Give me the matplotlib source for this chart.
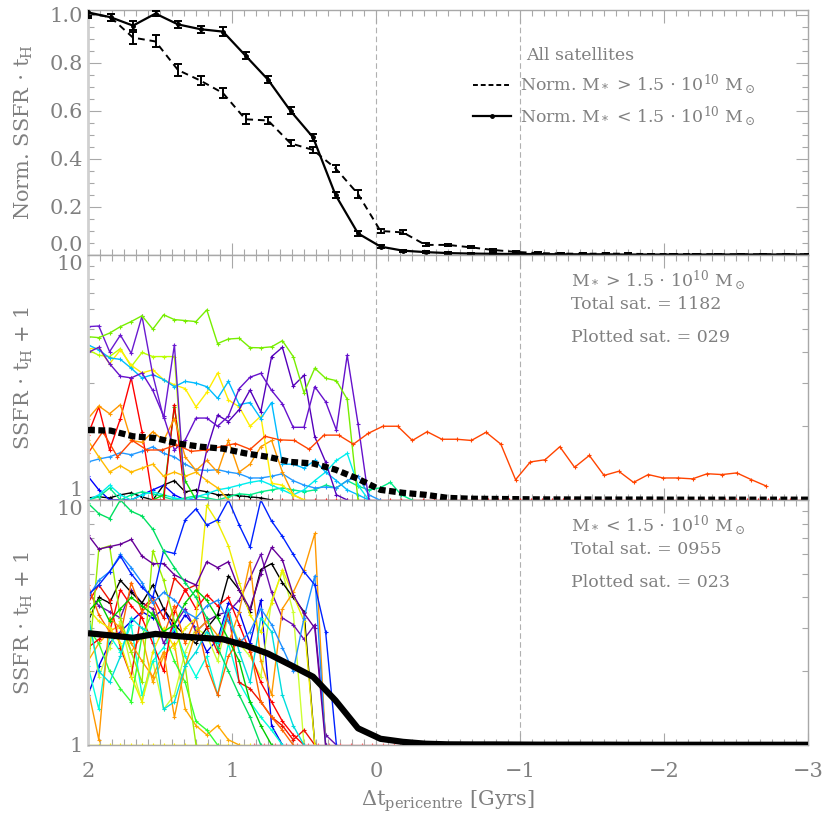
import numpy as np
import matplotlib
matplotlib.use('Agg')
import matplotlib.pyplot as plt
from matplotlib import ticker
from matplotlib.lines import Line2D

plt.rcParams['font.family'] = ['DejaVu Serif']
plt.rcParams['mathtext.fontset'] = 'dejavuserif'

GREY = '#808080'
FRAME = '#a8a8a8'

# ---------------- top panel: normalised mean SSFR ----------------
t_mean = np.linspace(2.0, -3.0, 33)

norm_high = [1.007, 0.99, 0.905, 0.889, 0.77, 0.726, 0.674, 0.565, 0.56, 0.465, 0.4375,
             0.361, 0.254, 0.10, 0.094, 0.042, 0.042, 0.032, 0.021, 0.013, 0.008, 0.006,
             0.005, 0.006, 0.005, 0.004, 0.004, 0.004, 0.003, 0.003, 0.003, 0.003, 0.003]
err_high = [0.02, 0.015, 0.025, 0.025, 0.025, 0.02, 0.02, 0.02, 0.015, 0.012, 0.012,
            0.015, 0.015, 0.008, 0.008, 0.006, 0.005, 0.004, 0.004, 0.003, 0.003, 0.002,
            0.002, 0.002, 0.002, 0.002, 0.002, 0.002, 0.002, 0.002, 0.002, 0.002, 0.002]
norm_low = [1.01, 0.99, 0.955, 1.005, 0.96, 0.94, 0.93, 0.83, 0.73, 0.60, 0.49, 0.25,
            0.09, 0.035, 0.018, 0.012, 0.008, 0.006, 0.005, 0.004, 0.004, 0.003, 0.003,
            0.003, 0.002, 0.002, 0.002, 0.002, 0.002, 0.002, 0.002, 0.002, 0.002]
err_low = [0.015, 0.015, 0.02, 0.01, 0.015, 0.015, 0.02, 0.015, 0.015, 0.015, 0.015,
           0.012, 0.01, 0.006, 0.004, 0.003, 0.003, 0.002, 0.002, 0.002, 0.002, 0.002,
           0.002, 0.002, 0.002, 0.002, 0.002, 0.002, 0.002, 0.002, 0.002, 0.002, 0.002]

# mean SSFR*tH+1 of all satellites in each mass bin
mean_high = [1.93, 1.92, 1.82, 1.79, 1.70, 1.65, 1.62, 1.55, 1.50, 1.43, 1.41, 1.33,
             1.22, 1.10, 1.07, 1.05, 1.02, 1.012, 1.01, 1.008, 1.006, 1.005, 1.005, 1.004,
             1.004, 1.004, 1.003, 1.003, 1.003, 1.003, 1.003, 1.003, 1.003]
mean_low = [2.86, 2.80, 2.74, 2.84, 2.78, 2.74, 2.70, 2.55, 2.36, 2.12, 1.90, 1.52,
            1.17, 1.06, 1.03, 1.012, 1.006, 1.005, 1.005, 1.004, 1.003, 1.003, 1.003,
            1.003, 1.002, 1.002, 1.002, 1.002, 1.002, 1.002, 1.002, 1.002, 1.002]

# ---------------- individual satellites (SSFR*tH + 1) ----------------
STEP = 0.075  # snapshot spacing of the tracks [Gyr]

# M* > 1.5e10
hi_lime = [4.64, 4.6, 4.8, 5.1, 5.35, 5.65, 4.98, 5.7, 5.45, 5.4, 5.35, 5.97, 4.35, 4.54,
           4.57, 4.19, 4.18, 4.22, 4.47, 3.85, 2.74, 3.45, 3.14, 3.07, 2.58, 1.0]
hi_purple_a = [5.1, 5.13, 4.03, 4.71, 3.97, 5.63, 3.24, 2.16, 4.3, 1.0]
hi_purple_b = [4.0, 4.2, 3.6, 3.2, 3.15, 3.3, 2.8, 2.2, 1.6, 1.76, 2.16, 2.16, 2.0, 2.2,
               2.85, 3.17, 3.29, 2.8, 2.47, 1.98, 1.98, 2.9, 2.52, 1.93, 3.9, 2.05, 1.0]
hi_purple_c = [1.0, 1.6, 2.22, 2.09, 2.34, 2.81, 2.29, 3.85, 4.2, 2.92, 3.23, 1.81, 1.43,
               1.05, 1.0]
hi_cyan = [4.3, 4.1, 3.8, 3.75, 3.45, 3.15, 3.25, 3.1, 2.9, 3.05, 3.0, 2.9, 2.6, 3.05,
           2.45, 2.5, 2.15, 2.5, 1.4, 1.4, 1.35, 1.45, 1.3, 1.2, 1.1, 1.05, 1.0]
hi_yellow = [4.15, 4.15, 3.6, 4.1, 3.55, 3.3, 3.4, 3.1, 2.95, 2.85, 2.4, 2.75, 3.3, 2.56,
             2.4, 2.0, 2.2, 1.17, 1.15, 1.05, 1.0]
hi_yellowgreen = [4.1, 3.9, 3.85, 4.15, 3.5, 4.0, 3.85, 3.85, 3.85, 1.0]
hi_orange = [2.15, 2.42, 2.25, 2.45, 1.75, 1.72, 1.9, 1.75, 2.15, 1.5, 1.32, 1.45, 1.3,
             1.75, 1.3, 1.4, 1.65, 1.75, 1.3, 1.05, 1.0]
hi_gold = [1.75, 1.5, 1.3, 1.38, 1.3, 1.35, 1.4, 1.25, 1.3, 1.25, 1.3, 1.2, 1.12, 1.0]
hi_red = [1.85, 2.4, 1.6, 2.15, 3.15, 1.9, 1.0]
hi_red_spike = [1.0, 1.0, 2.45, 1.0]
hi_green_spike = [1.0, 1.05, 2.4, 1.2, 1.0]
hi_skyblue = [1.43, 1.47, 1.5, 1.56, 1.53, 1.58, 1.65, 1.55, 1.5, 1.4, 1.33, 1.32, 1.33,
              1.3, 1.28, 1.23, 1.23, 1.25, 1.28, 1.2, 1.15, 1.12, 1.13, 1.12, 1.2, 1.25,
              1.05, 1.0]
hi_cyan2 = [1.0, 1.05, 1.15, 1.05, 1.0, 1.05, 1.08, 1.05, 1.02, 1.0, 1.03, 1.06, 1.1,
            1.12, 1.15, 1.18, 1.2, 1.15, 1.1, 1.05, 1.1, 1.2, 1.3, 1.45, 1.55, 1.15, 1.0]
hi_spring = [1.0, 1.03, 1.12, 1.0, 1.05, 1.08, 1.06, 1.03, 1.0, 1.02, 1.04, 1.02, 1.0,
             1.03, 1.06, 1.05, 1.08, 1.1, 1.12, 1.1, 1.08, 1.1, 1.15, 1.12, 1.2, 1.14,
             1.1, 1.12, 1.18, 1.05, 1.0]
hi_black = [1.02, 1.03, 1.02, 1.05, 1.07, 1.03, 1.0, 1.15, 1.2, 1.08, 1.1, 1.08, 1.05,
            1.05, 1.04, 1.03, 1.02, 1.0]
hi_blue = [1.25, 1.1, 1.0, 1.0, 1.0, 1.05, 1.1, 1.15, 1.05, 1.0, 1.0, 1.0]
hi_floor = [1.0] * 67

# the one satellite followed well past pericentre
t_long = np.linspace(2.0, -2.71, 47)
hi_long = [1.55, 1.9, 1.5, 1.75, 1.6, 1.6, 1.68, 1.58, 1.6, 1.65, 1.70, 1.61, 1.82, 1.76,
           1.75, 1.61, 1.84, 1.84, 1.69, 1.87, 2.0, 2.0, 1.75, 1.9, 1.77, 1.77, 1.75, 1.89,
           1.69, 1.21, 1.43, 1.46, 1.65, 1.36, 1.52, 1.26, 1.31, 1.18, 1.27, 1.23, 1.23,
           1.22, 1.28, 1.27, 1.29, 1.21, 1.14]

# M* < 1.5e10
lo_spring = [9.7, 8.8, 8.4, 10.0, 9.0, 8.6, 7.6, 6.2, 5.3, 4.6, 4.0, 3.3, 2.5, 2.0, 1.6,
             1.3, 1.0]
lo_blue = [4.1, 4.5, 5.1, 5.9, 5.0, 4.4, 4.0, 6.2, 6.05, 8.3, 9.2, 7.9, 8.3, 10.0, 7.9,
           6.4, 10.0, 8.2, 7.1, 6.0, 5.1, 4.5, 2.9, 1.0]
lo_purple = [7.2, 6.3, 6.45, 6.6, 6.9, 5.9, 5.5, 5.5, 4.95, 4.7, 4.5, 5.6, 5.3, 5.6, 4.3,
             3.6, 5.0, 6.4, 5.7, 4.1, 3.45, 3.0, 1.0]
lo_dodger = [4.0, 4.7, 5.1, 6.0, 5.3, 4.6, 3.8, 4.2, 3.9, 3.5, 3.3, 3.7, 3.9, 3.2, 2.6,
             2.9, 3.6, 3.1, 2.5, 2.0, 3.3, 4.9, 1.0]
lo_cyan = [3.4, 2.0, 1.8, 2.3, 3.3, 3.0, 2.8, 1.4, 1.5, 2.1, 2.4, 2.9, 2.6, 3.6, 2.4, 1.8,
           3.3, 2.9, 1.6, 1.2, 1.0]
lo_green = [3.5, 3.9, 3.2, 3.6, 4.0, 3.7, 3.4, 2.9, 3.1, 3.8, 4.3, 3.9, 3.3, 2.7, 2.2,
            1.5, 1.2, 1.0]
lo_lime = [2.0, 6.3, 6.5, 3.3, 2.4, 1.8, 6.2, 4.7, 3.2, 2.1, 1.0]
lo_yellow = [3.6, 3.2, 3.0, 2.6, 1.9, 1.5, 2.4, 3.0, 2.5, 3.0, 3.3, 9.5, 8.1, 6.5, 4.6,
             3.4, 2.9, 3.8, 5.2, 4.1, 3.2, 1.0]
lo_orange = [1.7, 1.05, 3.3, 3.0, 2.6, 2.2, 1.9, 2.4, 1.3, 2.1, 2.9, 3.2, 2.8, 2.6, 3.5,
             5.6, 2.2, 1.6, 3.6, 4.2, 5.2, 7.3, 1.0]
lo_darkorange = [4.5, 3.4, 2.9, 2.8, 4.6, 3.5, 3.9, 2.8, 3.7, 2.6, 3.3, 2.1, 1.6, 2.3,
                 2.7, 2.5, 1.5, 1.3, 1.15, 1.0]
lo_red = [2.5, 2.7, 2.9, 4.3, 3.7, 3.3, 2.6, 2.0, 3.5, 4.3, 3.6, 4.1, 3.7, 4.0, 3.1, 2.4,
          1.8, 1.5, 1.25, 1.1, 1.0]
lo_red2 = [3.8, 4.5, 3.9, 2.5, 1.9, 3.6, 4.0, 3.3, 4.8, 4.3, 4.5, 3.0, 2.4, 3.5, 1.8, 1.7,
           1.5, 1.3, 1.2, 1.05, 1.15, 1.0]
lo_black = [3.2, 4.0, 3.8, 4.7, 4.2, 3.8, 4.5, 3.6, 3.1, 2.8, 2.6, 3.0, 3.4, 4.9, 4.3, 3.5,
            5.2, 5.5, 4.6, 4.0, 3.5, 1.0]
lo_purple2 = [4.2, 3.7, 3.5, 3.3, 4.3, 3.8, 3.6, 2.6, 3.1, 3.6, 2.9, 3.2, 3.4, 3.5, 3.9,
              4.8, 6.0, 4.2, 3.3, 3.1, 2.7, 3.1, 1.1, 1.0]
lo_turquoise = [2.1, 1.4, 2.8, 2.4, 3.1, 1.6, 2.2, 2.5, 3.0, 2.3, 1.9, 2.3, 1.6, 2.6, 1.8,
                1.5, 1.3, 1.15, 1.0]
lo_green2 = [3.0, 2.6, 2.0, 1.7, 1.5, 2.8, 3.5, 2.9, 2.2, 1.8, 1.25, 1.15, 1.0]
lo_yellowgreen = [3.6, 1.9, 2.5, 3.2, 2.1, 1.5, 2.2, 1.4, 1.6, 2.4, 3.0, 2.8, 2.2, 3.4,
                  2.6, 2.3, 1.9, 3.9, 5.1, 3.5, 1.0]
lo_amber = [2.2, 2.6, 2.9, 3.1, 2.4, 2.8, 1.8, 2.3, 2.6, 1.4, 1.2, 1.1, 1.2, 1.05, 1.0]
lo_deepblue = [1.6, 2.1, 2.6, 2.9, 3.2, 3.5, 3.3, 3.6, 2.9, 3.4, 3.0, 2.4, 2.7, 3.8, 3.5,
               2.6, 3.9, 1.2, 1.0]
lo_floor_early = [1.0] * 16
lo_floor_late = [1.0] * 16

# (values, start time, colour)
high_tracks = [
    (hi_floor, 2.0, '#ff0000'),
    (hi_black, 2.0, '#000000'),
    (hi_blue, 2.0, '#0000ff'),
    (hi_spring, 2.0, '#00ee88'),
    (hi_cyan2, 2.0, '#00eeee'),
    (hi_skyblue, 2.0, '#2299ff'),
    (hi_green_spike, 1.55, '#11dd00'),
    (hi_red_spike, 1.55, '#ee0000'),
    (hi_red, 2.0, '#ff0000'),
    (hi_gold, 2.0, '#ffbb00'),
    (hi_orange, 2.0, '#ff9900'),
    (hi_yellowgreen, 2.0, '#bbff00'),
    (hi_yellow, 2.0, '#ffee00'),
    (hi_cyan, 2.0, '#00bbff'),
    (hi_purple_c, 1.25, '#5500bb'),
    (hi_purple_b, 2.0, '#6611cc'),
    (hi_purple_a, 2.0, '#6a1ad0'),
    (hi_lime, 2.0, '#77ee00'),
]
low_tracks = [
    (lo_floor_early, 2.0, '#ffee00'),
    (lo_floor_late, 0.85, '#ff6666'),
    (lo_deepblue, 2.0, '#0000ee'),
    (lo_amber, 2.0, '#ffaa00'),
    (lo_yellowgreen, 2.0, '#ccff33'),
    (lo_green2, 2.0, '#33ff33'),
    (lo_turquoise, 2.0, '#00ffdd'),
    (lo_purple2, 2.0, '#6a0dad'),
    (lo_black, 2.0, '#000000'),
    (lo_red2, 2.0, '#ee1100'),
    (lo_red, 2.0, '#ff0000'),
    (lo_darkorange, 2.0, '#ff6600'),
    (lo_orange, 2.0, '#ff9900'),
    (lo_yellow, 2.0, '#eeee00'),
    (lo_lime, 2.0, '#99ee00'),
    (lo_green, 2.0, '#00cc00'),
    (lo_cyan, 2.0, '#00dddd'),
    (lo_dodger, 2.0, '#1e90ff'),
    (lo_purple, 2.0, '#660099'),
    (lo_blue, 2.0, '#0022ff'),
    (lo_spring, 2.0, '#00e060'),
]


def style_axes(ax, log=False):
    ax.set_xlim(2, -3)
    ax.xaxis.set_major_locator(ticker.MultipleLocator(1))
    ax.xaxis.set_minor_locator(ticker.MultipleLocator(1 / 12))
    ax.tick_params(which='both', direction='in', top=True, right=True,
                   colors=FRAME, labelcolor=GREY, labelsize=15)
    ax.tick_params(which='major', length=9, width=0.8)
    ax.tick_params(which='minor', length=4.5, width=0.8)
    for s in ax.spines.values():
        s.set_color(FRAME)
        s.set_linewidth(1.0)
    ax.spines['left'].set_linewidth(2.0)
    ax.spines['left'].set_color('#d0d0d0')
    for xv in (0, -1):
        ax.axvline(xv, color='#b0b0b0', lw=0.8, ls=(0, (5, 3)), zorder=1)
    if log:
        ax.set_yscale('log')
        ax.set_ylim(1, 10)
        ax.yaxis.set_major_locator(ticker.FixedLocator([1, 10]))
        ax.yaxis.set_major_formatter(ticker.FuncFormatter(lambda v, p: f'{v:g}'))
        ax.yaxis.set_minor_locator(ticker.LogLocator(base=10, subs=np.arange(2, 10)))
        ax.yaxis.set_minor_formatter(ticker.NullFormatter())
        ax.set_ylabel(r'SSFR $\cdot$ t$_{\rm H}$ + 1', color=GREY, fontsize=15)
    ax.yaxis.set_label_coords(-0.073, 0.5)


def draw_tracks(ax, tracks):
    for vals, t0, col in tracks:
        t = t0 - STEP * np.arange(len(vals))
        ax.plot(t, vals, color=col, lw=1.0, marker='+', ms=3.5, mew=0.8, zorder=2)


fig = plt.figure(figsize=(8.22, 8.22), dpi=100)
L, W = 88 / 822, 720 / 822
ax_top = fig.add_axes([L, 1 - 255 / 822, W, 245 / 822])
ax_mid = fig.add_axes([L, 1 - 500 / 822, W, 245 / 822])
ax_bot = fig.add_axes([L, 1 - 745 / 822, W, 245 / 822])

# top panel
style_axes(ax_top)
ax_top.set_ylim(0, 1.02)
ax_top.yaxis.set_major_locator(ticker.MultipleLocator(0.2))
ax_top.yaxis.set_minor_locator(ticker.MultipleLocator(0.05))
ax_top.yaxis.set_major_formatter(ticker.FormatStrFormatter('%.1f'))
ax_top.tick_params(labelbottom=False)
ax_top.errorbar(t_mean, norm_high, yerr=err_high, color='black', lw=1.4,
                ls=(0, (3.5, 2.5)), capsize=3, elinewidth=1.4, capthick=1.4, zorder=4)
ax_top.errorbar(t_mean, norm_low, yerr=err_low, color='black', lw=1.6, marker='o',
                ms=2.5, capsize=3, elinewidth=1.4, capthick=1.4, zorder=4)
ax_top.set_ylabel(r'Norm. SSFR $\cdot$ t$_{\rm H}$', color=GREY, fontsize=15)
ax_top.text(0.608, 0.816, 'All satellites', transform=ax_top.transAxes, color=GREY,
            fontsize=12.5, va='center', ha='left')
handles = [Line2D([], [], color='black', lw=1.4, ls=(0, (2.5, 1.5))),
           Line2D([], [], color='black', lw=1.6, marker='o', ms=2.5, markevery=[0, -1])]
labels = [r'Norm. M$_*$ > 1.5 $\cdot$ 10$^{10}$ M$_\odot$',
          r'Norm. M$_*$ < 1.5 $\cdot$ 10$^{10}$ M$_\odot$']
ax_top.legend(handles, labels, loc='upper left', bbox_to_anchor=(0.535, 0.745),
              frameon=False, fontsize=12.5, labelcolor=GREY, handlelength=2.2,
              handletextpad=0.5, labelspacing=0.45, borderpad=0, borderaxespad=0)

# middle panel
style_axes(ax_mid, log=True)
ax_mid.tick_params(labelbottom=False)
draw_tracks(ax_mid, high_tracks)
ax_mid.plot(t_long, hi_long, color='#ff4400', lw=1.0, marker='+', ms=3.5, mew=0.8, zorder=2)
ax_mid.plot(t_mean, mean_high, color='black', lw=4.5, ls=(0, (1.1, 0.55)), zorder=5)
for y, s in zip((0.898, 0.796, 0.665),
                (r'M$_*$ > 1.5 $\cdot$ 10$^{10}$ M$_\odot$', 'Total sat. = 1182',
                 'Plotted sat. = 029')):
    ax_mid.text(0.671, y, s, transform=ax_mid.transAxes, color=GREY, fontsize=12.5,
                va='center', ha='left')

# bottom panel
style_axes(ax_bot, log=True)
draw_tracks(ax_bot, low_tracks)
ax_bot.plot(t_mean, mean_low, color='black', lw=4.5, solid_capstyle='butt', zorder=5)
for y, s in zip((0.898, 0.796, 0.665),
                (r'M$_*$ < 1.5 $\cdot$ 10$^{10}$ M$_\odot$', 'Total sat. = 0955',
                 'Plotted sat. = 023')):
    ax_bot.text(0.671, y, s, transform=ax_bot.transAxes, color=GREY, fontsize=12.5,
                va='center', ha='left')
ax_bot.tick_params(axis='x', pad=12)
ax_bot.set_xlabel(r'$\Delta$t$_{\rm pericentre}$ [Gyrs]', color=GREY, fontsize=15,
                  labelpad=6)

# keep the tick labels at the panel joins from sitting on each other
fig.canvas.draw()
for lab in ax_top.get_yticklabels():
    if lab.get_text() == '0.0':
        lab.set_va('bottom')
for ax in (ax_mid, ax_bot):
    for lab in ax.get_yticklabels():
        if lab.get_text() == '10':
            lab.set_va('top')
        elif lab.get_text() == '1' and ax is ax_mid:
            lab.set_va('bottom')

fig.savefig('out.png', dpi=100)
